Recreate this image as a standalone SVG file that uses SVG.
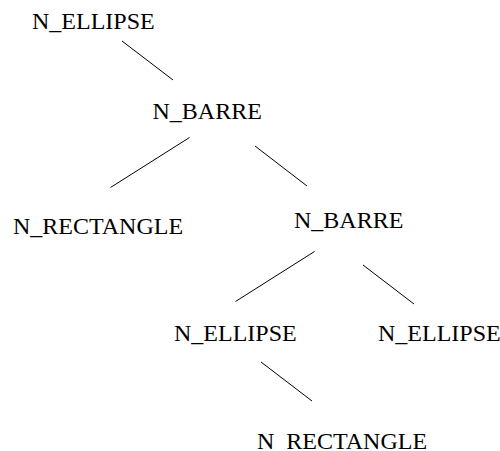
<svg xmlns="http://www.w3.org/2000/svg" width="500" height="451" viewBox="0 0 500 451">
<style>
text{font-family:"Liberation Serif","Times New Roman",serif;font-size:24px;fill:#000}
line{stroke:#000;stroke-width:1}
</style>
<rect width="500" height="451" fill="#fff"/>
<g id="connectors">
<line x1="122" y1="41" x2="173" y2="80"/>
<line x1="189.5" y1="137.5" x2="110.5" y2="187.5"/>
<line x1="255" y1="146" x2="307" y2="186"/>
<line x1="314.5" y1="251.5" x2="235.5" y2="301.5"/>
<line x1="363" y1="265" x2="414" y2="304"/>
<line x1="261" y1="362" x2="312" y2="401"/>
</g>
<g id="n1"><text x="32" y="29">N_ELLIPSE</text></g>
<g id="n2"><text x="152.5" y="119">N_BARRE</text></g>
<g id="n3"><text x="13" y="234">N_RECTANGLE</text></g>
<g id="n4"><text x="294" y="228">N_BARRE</text></g>
<g id="n5"><text x="174" y="341">N_ELLIPSE</text></g>
<g id="n6"><text x="378" y="341">N_ELLIPSE</text></g>
<g id="n7"><text x="257" y="448.5">N_RECTANGLE</text></g>
</svg>
